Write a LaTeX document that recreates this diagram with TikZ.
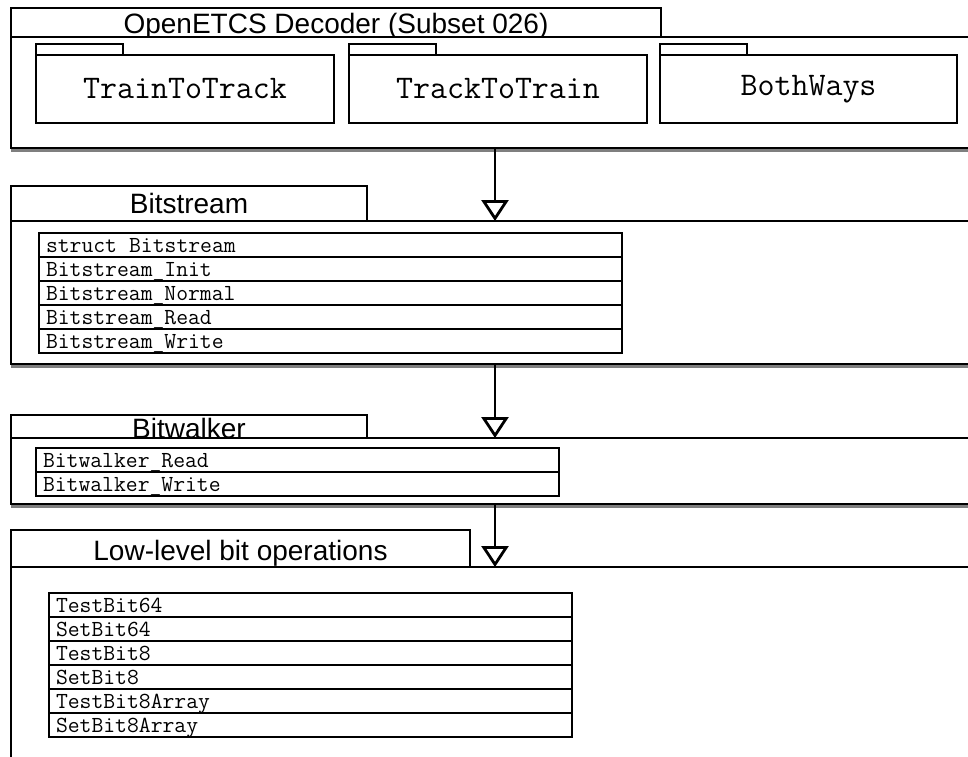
\documentclass[tikz,border=0pt]{standalone}
\usepackage{fontspec}
\newfontfamily\titlefont{Liberation Sans}
\usetikzlibrary{positioning, arrows.meta, shadows}
\tikzset{
pkgshadow/.style = {drop shadow = {shadow xshift = 0pt, shadow yshift = -3.5pt,
   opacity = 0.5, fill = black}},
pkgtab/.style = {rectangle, draw, line width = 1.5pt, fill = white, inner sep = 0pt,
   outer sep = 0pt, anchor = north west, pkgshadow,
   font = \titlefont\fontsize{28}{28}\selectfont},
pkgbody/.style = {rectangle, draw, line width = 1.5pt, fill = white, inner sep = 0pt,
   outer sep = 0pt, pkgshadow},
subtab/.style = {rectangle, draw, line width = 1.2pt, fill = white, inner sep = 0pt,
   outer sep = 0pt, minimum width = 87pt, minimum height = 11pt},
subbody/.style = {rectangle, draw, line width = 1.2pt, fill = white, inner sep = 0pt,
   outer sep = 0pt, minimum width = 298pt, minimum height = 68pt,
   font = \ttfamily\fontsize{33}{33}\selectfont},
oprow/.style = {rectangle, draw, line width = 1.2pt, inner xsep = 7pt,
   inner ysep = 0pt, outer sep = 0pt, text height = 19pt, text depth = 5pt,
   align = left, font = \ttfamily\fontsize{23}{24}\selectfont},
bsrow/.style = {oprow, text width = 569pt},
bwrow/.style = {oprow, text width = 509pt},
llrow/.style = {oprow, text width = 509pt},
depends/.style = {line width = 2.8pt, -{Triangle[open, length = 21pt, width = 27pt]}}
}

\begin{document}
\begin{tikzpicture}[x = 1pt, y = -1pt]
\path [use as bounding box, clip] (0,0) rectangle (968,756);

%% The decoder package
\node [pkgtab, minimum width = 650pt, text height = 25pt, text depth = 4pt] (decTab)
   at (11,8) {OpenETCS Decoder (Subset 026)};
\node [pkgbody, minimum width = 980pt, minimum height = 111pt,
   below = 0pt of decTab.south west, anchor = north west] (decBody) {};

%% Its sub-packages
\node [subtab] (trainTab) [below right = 7pt and 25pt of decTab.south west] {};
\node [subbody] (trainBody) [below = 0pt of trainTab.south west, anchor = north west] {TrainToTrack};
\node [subbody] (trackBody) [right = 15pt of trainBody] {TrackToTrain};
\node [subtab] (trackTab) [above = 0pt of trackBody.north west, anchor = south west] {};
\node [subbody, minimum width = 297pt] (bothBody) [right = 13pt of trackBody] {BothWays};
\node [subtab] (bothTab) [above = 0pt of bothBody.north west, anchor = south west] {};

%% Bitstream
\node [pkgtab, minimum width = 356pt, text height = 27pt, text depth = 8pt] (bsTab)
   [below = 38pt of decBody.south west, anchor = north west] {Bitstream};
\node [pkgbody, minimum width = 980pt, minimum height = 143pt,
   below = 0pt of bsTab.south west, anchor = north west] (bsBody) {};

\node [bsrow] (bs1) [below right = 12pt and 28pt of bsBody.north west] {struct\hspace{0.525em}Bitstream};
\node [bsrow] (bs2) [below = 0pt of bs1] {Bitstream\textunderscore Init};
\node [bsrow] (bs3) [below = 0pt of bs2] {Bitstream\textunderscore Normal};
\node [bsrow] (bs4) [below = 0pt of bs3] {Bitstream\textunderscore Read};
\node [bsrow] (bs5) [below = 0pt of bs4] {Bitstream\textunderscore Write};

%% Bitwalker
\node [pkgtab, minimum width = 356pt, text height = 23pt, text depth = 0pt] (bwTab)
   [below = 51pt of bsBody.south west, anchor = north west] {Bitwalker};
\node [pkgbody, minimum width = 980pt, minimum height = 66pt,
   below = 0pt of bwTab.south west, anchor = north west] (bwBody) {};

\node [bwrow] (bw1) [below right = 10pt and 25pt of bwBody.north west] {Bitwalker\textunderscore Read};
\node [bwrow] (bw2) [below = 0pt of bw1] {Bitwalker\textunderscore Write};

%% Low-level bit operations
\node [pkgtab, minimum width = 459pt, text height = 30pt, text depth = 7pt] (llTab)
   [below = 26pt of bwBody.south west, anchor = north west] {Low-level bit operations};
\node [pkgbody, minimum width = 980pt, minimum height = 230pt,
   below = 0pt of llTab.south west, anchor = north west] (llBody) {};

\node [llrow] (ll1) [below right = 26pt and 38pt of llBody.north west] {TestBit64};
\node [llrow] (ll2) [below = 0pt of ll1] {SetBit64};
\node [llrow] (ll3) [below = 0pt of ll2] {TestBit8};
\node [llrow] (ll4) [below = 0pt of ll3] {SetBit8};
\node [llrow] (ll5) [below = 0pt of ll4] {TestBit8Array};
\node [llrow] (ll6) [below = 0pt of ll5] {SetBit8Array};

%% Dependencies
\coordinate (axis) at (495,0);
\draw [depends] (decBody.south -| axis) -- (bsBody.north -| axis);
\draw [depends] (bsBody.south -| axis) -- (bwBody.north -| axis);
\draw [depends] (bwBody.south -| axis) -- (llBody.north -| axis);

\end{tikzpicture}
\end{document}
